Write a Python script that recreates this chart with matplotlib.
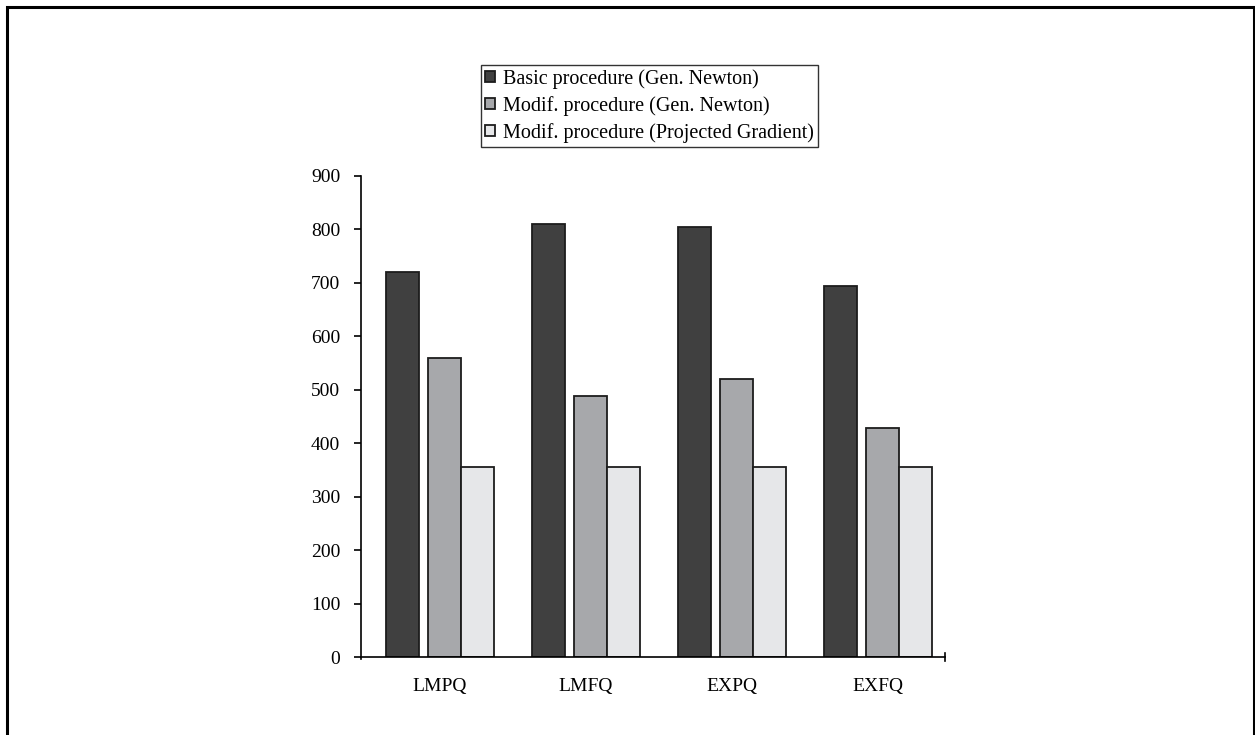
import matplotlib
matplotlib.use("Agg")
from matplotlib import pyplot as plt
from matplotlib.patches import Rectangle
import numpy as np

categories = ["LMPQ", "LMFQ", "EXPQ", "EXFQ"]
basic_newton = [720, 810, 805, 695]
modif_newton = [560, 488, 520, 428]
modif_gradient = [355, 355, 355, 355]
series_labels = ["Basic procedure (Gen. Newton)",
                 "Modif. procedure (Gen. Newton)",
                 "Modif. procedure (Projected Gradient)"]
y_ticks = [0, 100, 200, 300, 400, 500, 600, 700, 800, 900]

plt.rcParams["font.family"] = ["Liberation Serif", "DejaVu Serif"]
plt.rcParams["font.size"] = 14

W, H = 1255, 735
fig = plt.figure(figsize=(W / 100, H / 100), dpi=100)

# axes box in pixels: x 361..945, y 176 (=900) .. 657 (=0)
ax = fig.add_axes([361 / W, 1 - 657 / H, (945 - 361) / W, (657 - 176) / H])

x = np.arange(len(categories))
width = 0.226
offsets = [-0.260, 0.031, 0.257]
colors = ["#404040", "#a7a8ab", "#e6e7e9"]
series = [basic_newton, modif_newton, modif_gradient]

handles = []
for vals, off, col, lab in zip(series, offsets, colors, series_labels):
    b = ax.bar(x + off, vals, width, color=col, edgecolor="#1c1c1c",
               linewidth=1.3, label=lab, zorder=2)
    handles.append(b)

ax.set_xlim(-0.541, 3.459)
ax.set_ylim(0, 900)
ax.set_yticks(y_ticks)
ax.set_xticks(x)
ax.set_xticklabels(categories)

for side in ["top", "right"]:
    ax.spines[side].set_visible(False)
ax.spines["left"].set_linewidth(1.2)
ax.spines["bottom"].set_linewidth(1.2)
ax.spines["left"].set_bounds(-4, 900)
ax.spines["left"].set_clip_on(False)

ax.tick_params(axis="y", direction="out", length=5, width=1.2, pad=10)
ax.tick_params(axis="x", length=0, pad=15)

# end tick on the category axis
ax.plot([3.459, 3.459], [-8, 8], color="black", lw=1.2, clip_on=False)

leg = ax.legend(handles=handles, loc="upper left",
                bbox_to_anchor=(481 / W, 1 - 65 / H),
                bbox_transform=fig.transFigure, fontsize=14.5,
                frameon=True, fancybox=False, edgecolor="black",
                handlelength=0.5, handleheight=0.5, handletextpad=0.4,
                borderpad=0.2, labelspacing=0.35, borderaxespad=0)
leg.get_frame().set_linewidth(1.0)

# outer frame, open at the bottom
frame = Rectangle((7 / W, -0.05), (1254 - 7) / W, (1 - 7 / H) + 0.05,
                  transform=fig.transFigure, fill=False,
                  edgecolor="black", linewidth=2.2, clip_on=False)
fig.patches.append(frame)

fig.savefig("out.png", dpi=100, facecolor="white")
